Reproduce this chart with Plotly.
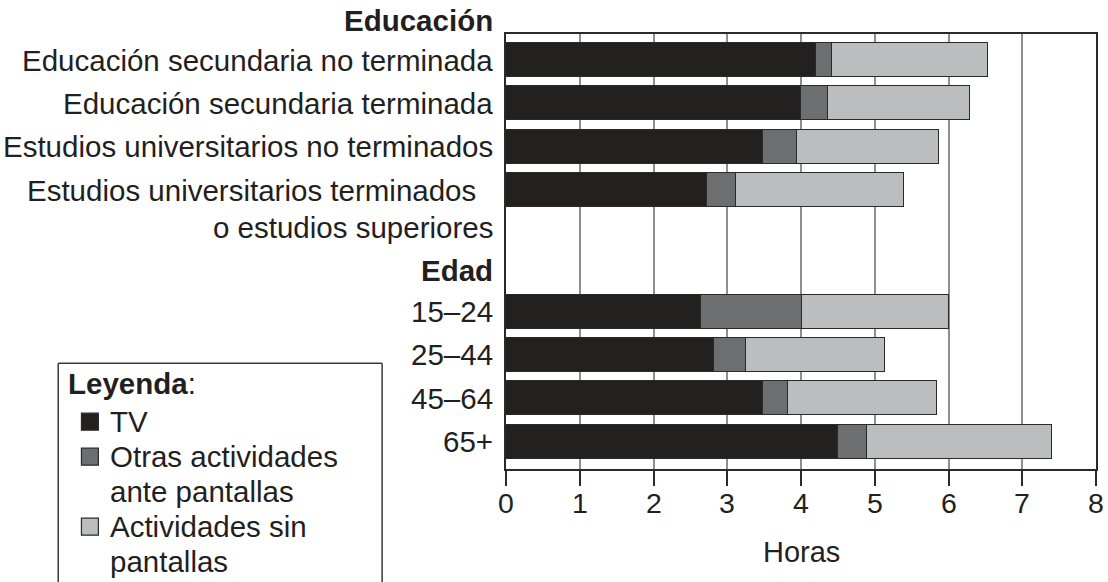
import plotly.graph_objects as go

# ---------------- data ----------------
edu_labels = [
    "Educación secundaria no terminada",
    "Educación secundaria terminada",
    "Estudios universitarios no terminados",
    "Estudios universitarios terminados <br>o estudios superiores",
]
age_labels = ["15–24", "25–44", "45–64", "65+"]

tv_edu = [4.20, 4.00, 3.48, 2.72]
otras_edu = [0.22, 0.36, 0.46, 0.40]
sin_edu = [2.12, 1.93, 1.93, 2.28]

tv_age = [2.65, 2.82, 3.49, 4.50]
otras_age = [1.36, 0.43, 0.34, 0.40]
sin_age = [1.99, 1.89, 2.02, 2.51]

series_names = ["TV", "Otras actividades<br>ante pantallas", "Actividades sin<br>pantallas"]
series_colors = ["#222120", "#6d6e70", "#bcbdbf"]

group_titles = ["Educación", "Edad"]
x_ticks = [0, 1, 2, 3, 4, 5, 6, 7, 8]
x_title = "Horas"
legend_title = "<b>Leyenda</b>:"

# ---------------- layout geometry ----------------
W, H = 1108, 582
L, R, T, B = 506, 10, 34, 113
PW, PH = W - L - R, H - T - B
FONT = "Arial, 'Liberation Sans', Helvetica, sans-serif"
TXT = "#231f20"
EDGE = "#2a2a2a"
LAB_SIZE = 29.5


def px(x):
    return (x - L) / PW


def py(y):
    return (H - B - y) / PH


edu_pos = [0, 1, 2, 3]
age_pos = [5.8, 6.8, 7.8, 8.8]
y_pos = edu_pos + age_pos
y_range = [9.43, -0.6]
ROW_PX = PH / (y_range[0] - y_range[1])


def ypix(pos):
    return T + (pos - y_range[1]) * ROW_PX


tv = tv_edu + tv_age
otras = otras_edu + otras_age
sin = sin_edu + sin_age

fig = go.Figure()
for name, vals, col in zip(series_names, [tv, otras, sin], series_colors):
    fig.add_trace(go.Bar(
        y=y_pos, x=vals, orientation="h", name=name.replace("<br>", " "),
        width=0.785, marker=dict(color=col, line=dict(color=EDGE, width=1.5)),
        showlegend=False,
    ))

annotations = []
# category labels
labels = edu_labels + age_labels
for pos, lab in zip(y_pos, labels):
    lines = lab.split("<br>")
    for i, line in enumerate(lines):
        text = line.rstrip() + ("\u00a0\u00a0" if line.endswith(" ") else "")
        annotations.append(dict(
            x=px(L - 11), xref="paper", y=py(ypix(pos) + i * 37), yref="paper", text=text,
            xanchor="right", yanchor="middle", showarrow=False,
            font=dict(family=FONT, size=LAB_SIZE, color=TXT),
        ))
# group titles
for title, ypx in zip(group_titles, [20, 270]):
    annotations.append(dict(
        x=px(L - 11), xref="paper", y=py(ypx), yref="paper", text="<b>" + title + "</b>",
        xanchor="right", yanchor="middle", showarrow=False,
        font=dict(family=FONT, size=LAB_SIZE, color=TXT),
    ))
# x tick labels (placed on the x scale)
for v in x_ticks:
    annotations.append(dict(
        x=v, xref="x", y=py(503.3), yref="paper", text=str(v),
        xanchor="center", yanchor="middle", showarrow=False,
        font=dict(family=FONT, size=28.5, color=TXT),
    ))
# x title
annotations.append(dict(
    x=0.5, xref="paper", y=py(551.7), yref="paper", text=x_title,
    xanchor="center", yanchor="middle", showarrow=False,
    font=dict(family=FONT, size=29, color=TXT),
))

# manual legend
shapes = []
box_l, box_r, box_t = 56.7, 381.7, 363.3
for (x0, y0, x1, y1) in [(box_l, box_t, box_r, box_t), (box_l, box_t, box_l, 600),
                         (box_r, box_t, box_r, 600)]:
    shapes.append(dict(type="line", xref="paper", yref="paper",
                       x0=px(x0), y0=py(y0), x1=px(x1), y1=py(y1),
                       line=dict(color="#3a3a3a", width=1.5)))
annotations.append(dict(
    x=px(65), xref="paper", y=py(383.3), yref="paper", text=legend_title,
    xanchor="left", yanchor="middle", showarrow=False,
    font=dict(family=FONT, size=LAB_SIZE, color=TXT),
))
line_y = 421.7
for name, col in zip(series_names, series_colors):
    shapes.append(dict(type="rect", xref="paper", yref="paper",
                       x0=px(80), x1=px(97), y0=py(line_y - 8.5), y1=py(line_y + 8.5),
                       fillcolor=col, line=dict(color=EDGE, width=1.2)))
    for part in name.split("<br>"):
        annotations.append(dict(
            x=px(107), xref="paper", y=py(line_y), yref="paper", text=part,
            xanchor="left", yanchor="middle", showarrow=False,
            font=dict(family=FONT, size=LAB_SIZE, color=TXT),
        ))
        line_y += 35

fig.update_layout(
    width=W, height=H, margin=dict(l=L, r=R, t=T, b=B, pad=0),
    paper_bgcolor="white", plot_bgcolor="white",
    barmode="stack", bargap=0,
    font=dict(family=FONT, color=TXT),
    annotations=annotations, shapes=shapes,
    xaxis=dict(
        range=[0, 8], tickvals=x_ticks, showticklabels=False,
        ticks="outside", ticklen=15, tickwidth=1.5, tickcolor=EDGE,
        showgrid=True, gridcolor="#8f8f8f", gridwidth=1.5,
        showline=True, linecolor=EDGE, linewidth=1.5, mirror=True,
        zeroline=False, fixedrange=True,
    ),
    yaxis=dict(
        range=y_range, showticklabels=False, showgrid=False, zeroline=False,
        showline=True, linecolor=EDGE, linewidth=1.5, mirror=True, ticks="",
        fixedrange=True,
    ),
)

fig.write_html(
    "out.html",
    config={"displayModeBar": False},
    post_script="document.body.style.margin='0';document.body.style.overflow='hidden';",
)
